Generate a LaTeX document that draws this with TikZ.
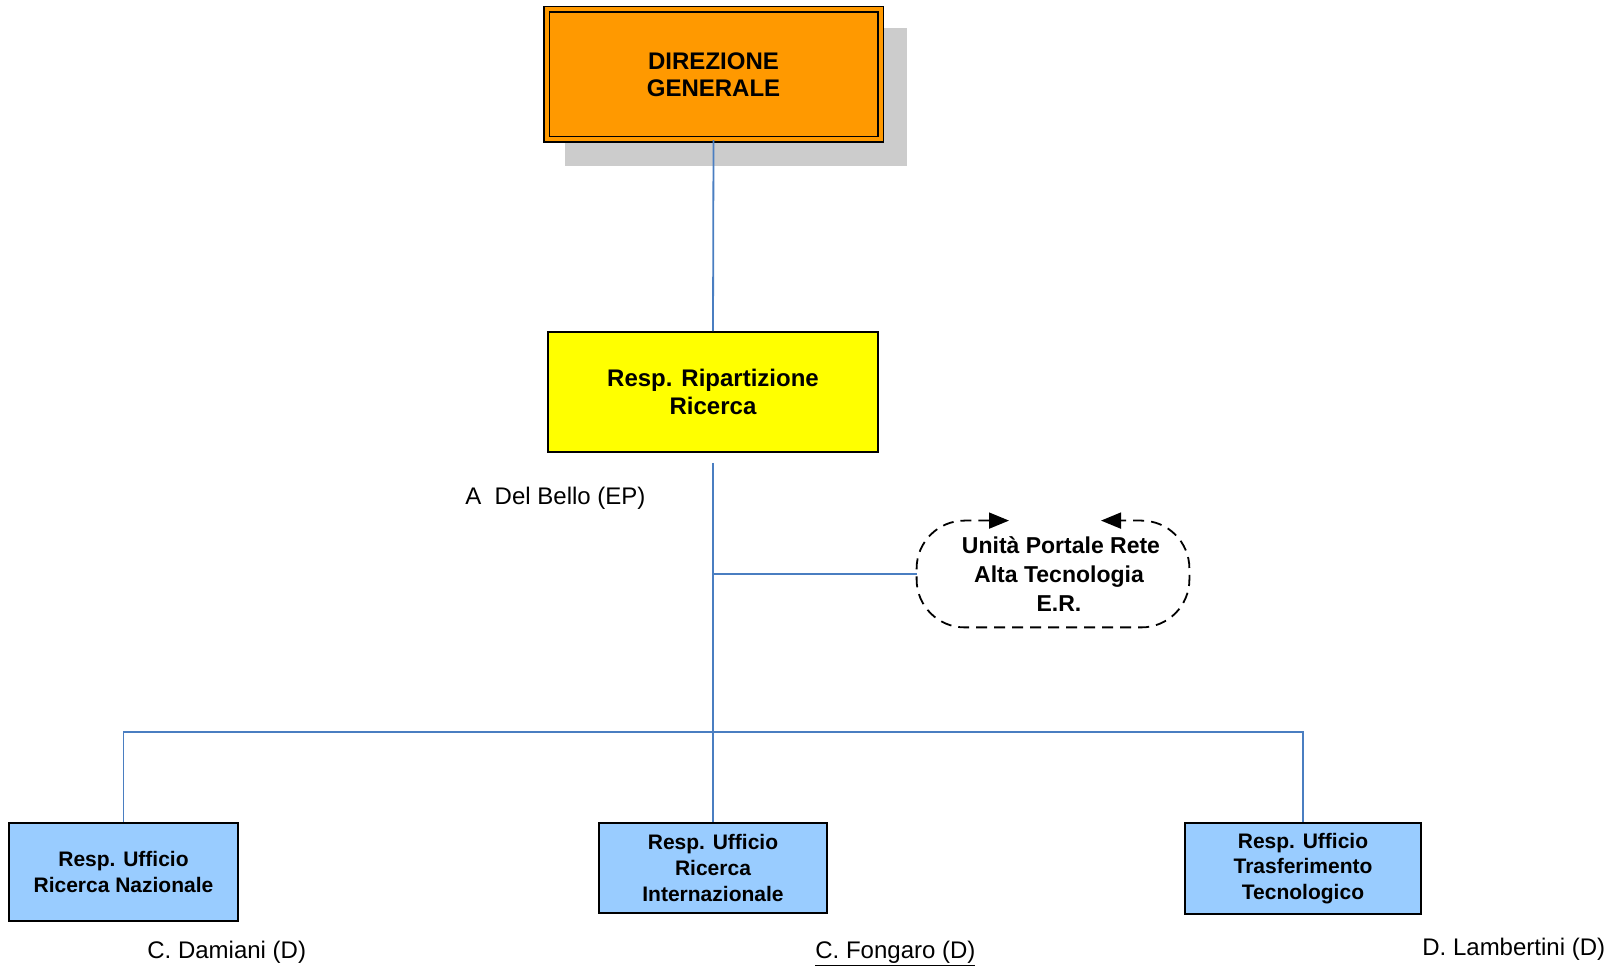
\documentclass[tikz,border=0pt]{standalone}
\usepackage{fontspec}
\setmainfont{Liberation Sans}
\usetikzlibrary{arrows.meta}
\definecolor{dirorange}{RGB}{255,153,0}
\definecolor{respyellow}{RGB}{255,255,0}
\definecolor{uffblue}{RGB}{153,204,255}
\definecolor{shadowgray}{RGB}{204,204,204}
\definecolor{linkblue}{RGB}{74,126,193}
\tikzset{
  box/.style={draw=black, line width=0.9pt, inner sep=0pt, align=center},
  dirbox/.style={box, fill=dirorange, line width=0.7pt, double=dirorange, double distance=2pt,
    font=\fontsize{12}{13.5}\selectfont\bfseries},
  ripbox/.style={box, fill=respyellow, font=\fontsize{12}{14}\selectfont\bfseries},
  uffbox/.style={box, fill=uffblue, font=\fontsize{10.5}{12.9}\selectfont\bfseries},
  unitext/.style={inner sep=0pt, align=center, font=\fontsize{11.5}{14.5}\selectfont\bfseries},
  person/.style={inner sep=0pt, anchor=base west, font=\fontsize{12}{14}\selectfont},
  link/.style={draw=linkblue, line width=0.9pt},
  dashloop/.style={line width=0.9pt, dash pattern=on 5.5pt off 3.5pt, rounded corners=24pt,
    {Triangle[length=10pt,width=8pt]}-{Triangle[length=10pt,width=8pt]}}
}
\begin{document}
\begin{tikzpicture}[x=0.5pt,y=-0.5pt]
\useasboundingbox (0,0) rectangle (1612,967);

% shadow of the top box
\fill[shadowgray] (565,28) rectangle (907,166);

% boxes
\node[dirbox, minimum width=167pt, minimum height=65pt] (dg) at (713.5,74.5) {DIREZIONE\\GENERALE};
\node[ripbox, minimum width=165pt, minimum height=60pt] (rr) at (713,392) {Resp. Ripartizione\\Ricerca};
\node[uffbox, minimum width=114.5pt, minimum height=49pt] (rnaz) at (123.5,872) {Resp. Ufficio\\Ricerca Nazionale};
\node[uffbox, minimum width=114pt, minimum height=45pt] (rint) at (713,868) {Resp. Ufficio\\Ricerca\\Internazionale};
\node[uffbox, minimum width=118pt, minimum height=45.5pt] (rtt) at (1303,868.5) {Resp. Ufficio\\Trasferimento\\Tecnologico};

% unit with dashed outline
\node[unitext, minimum width=136pt, minimum height=53pt] (upr) at (1053,574) {\hspace{8pt}Unità Portale Rete\\\hspace{6pt}Alta Tecnologia\\\hspace{6pt}E.R.};
\draw[dashloop] ([xshift=-22pt]upr.north) -- (upr.north west) -- (upr.south west)
  -- (upr.south east) -- (upr.north east) -- ([xshift=24pt]upr.north);

% names
\node[person] (delbello) at (465,505) {A\ \ Del Bello (EP)};
\node[person] (damiani) at (147,958) {C. Damiani (D)};
\node[person] (fongaro) at (815,958) {\underline{C. Fongaro (D)}};
\node[person] (lambertini) at (1422,955) {D. Lambertini (D)};

% connectors
\coordinate (bus) at (713,732);
\draw[link] (dg.south) -- (rr.north);
\draw[link] ([yshift=-5pt]rr.south) -- (rint.north);
\draw[link] (rr.south |- upr.west) -- (upr.west);
\draw[link] (rnaz.north) |- (bus) -| (rtt.north);
\end{tikzpicture}
\end{document}
